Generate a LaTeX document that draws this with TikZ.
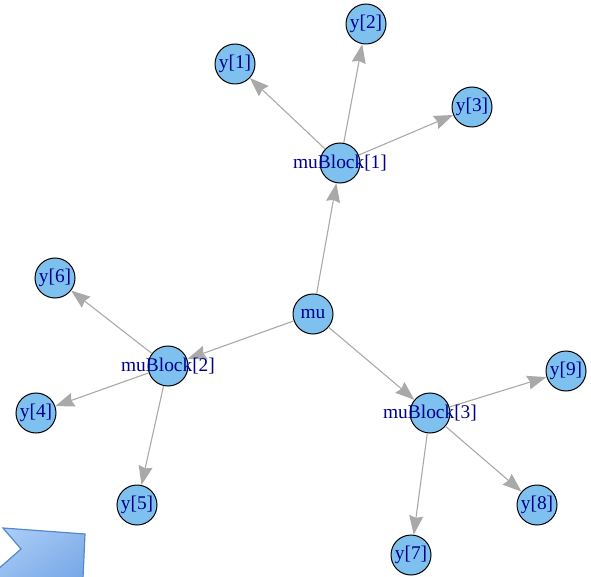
\documentclass[tikz,border=0pt]{standalone}
\usepackage{fontspec}
\setmainfont{Liberation Serif}
\usetikzlibrary{arrows.meta,shadings}
\definecolor{vfill}{HTML}{7EC0EE}
\definecolor{lblc}{HTML}{00008B}
\definecolor{edgec}{HTML}{A9A9A9}
\definecolor{shapeA}{HTML}{B5D4FA}
\definecolor{shapeM}{HTML}{8FB9EE}
\definecolor{shapeB}{HTML}{6A9EE2}
\definecolor{shapeE}{HTML}{5489CB}
\tikzset{
  vtx/.style={circle, draw=black, line width=1pt, fill=vfill, minimum size=40pt, inner sep=0pt},
  lbl/.style={text=lblc, font=\fontsize{19.4pt}{20pt}\selectfont, inner sep=0pt},
  edg/.style={draw=edgec, line width=1.1pt, -{Stealth[length=19pt, width=14pt, inset=2pt]}}
}
\begin{document}
\begin{tikzpicture}[x=1pt,y=-1pt]
\useasboundingbox (0,0) rectangle (591,577);
\begin{scope}
\clip (0,0) rectangle (591,577);
\shade[draw=shapeE, line width=1.2pt, upper left=shapeA, upper right=shapeM, lower left=shapeM, lower right=shapeB]
  (3,528) -- (85,534) -- (82,600) -- (-20,600) -- (-20,585) -- (21,549) -- cycle;
\end{scope}
% vertices
\node[vtx] (mu) at (313,314) {};
\node[vtx] (mb1) at (340,163) {};
\node[vtx] (mb2) at (168,366) {};
\node[vtx] (mb3) at (430,413) {};
\node[vtx] (y1) at (235,64) {};
\node[vtx] (y2) at (366,24) {};
\node[vtx] (y3) at (472,107) {};
\node[vtx] (y4) at (36,413) {};
\node[vtx] (y5) at (137,505) {};
\node[vtx] (y6) at (55,278) {};
\node[vtx] (y7) at (411,555) {};
\node[vtx] (y8) at (537,505) {};
\node[vtx] (y9) at (566,371) {};
% edges
\draw[edg] (mu) -- (mb1);
\draw[edg] (mu) -- (mb2);
\draw[edg] (mu) -- (mb3);
\draw[edg] (mb1) -- (y1);
\draw[edg] (mb1) -- (y2);
\draw[edg] (mb1) -- (y3);
\draw[edg] (mb2) -- (y4);
\draw[edg] (mb2) -- (y5);
\draw[edg] (mb2) -- (y6);
\draw[edg] (mb3) -- (y7);
\draw[edg] (mb3) -- (y8);
\draw[edg] (mb3) -- (y9);
% labels
\node[lbl] at (mu) {mu};
\node[lbl] at (mb1) {muBlock[1]};
\node[lbl] at (mb2) {muBlock[2]};
\node[lbl] at (mb3) {muBlock[3]};
\node[lbl] at (y1) {y[1]};
\node[lbl] at (y2) {y[2]};
\node[lbl] at (y3) {y[3]};
\node[lbl] at (y4) {y[4]};
\node[lbl] at (y5) {y[5]};
\node[lbl] at (y6) {y[6]};
\node[lbl] at (y7) {y[7]};
\node[lbl] at (y8) {y[8]};
\node[lbl] at (y9) {y[9]};
\end{tikzpicture}
\end{document}
